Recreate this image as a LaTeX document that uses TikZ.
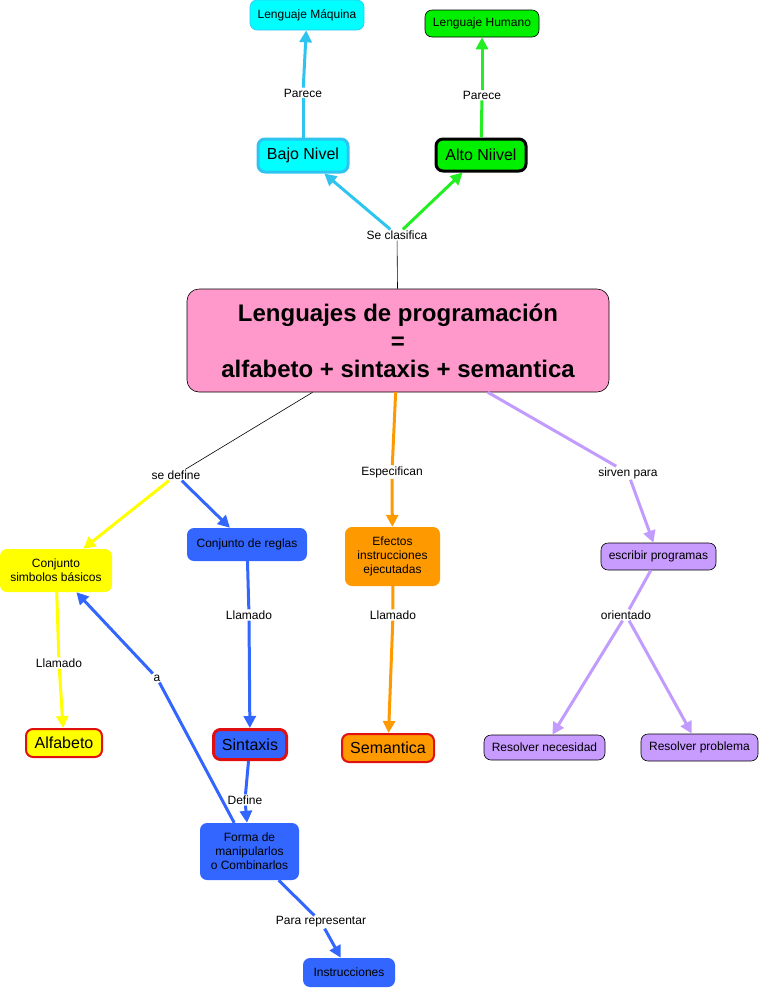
\documentclass[tikz,border=0pt]{standalone}
\usepackage{fontspec}
\setmainfont{Liberation Sans}
\usetikzlibrary{arrows.meta}
\definecolor{cyanfill}{HTML}{00FFFF}
\definecolor{cyanline}{HTML}{2EC4F0}
\definecolor{greenfill}{HTML}{00F000}
\definecolor{greenline}{HTML}{22EE22}
\definecolor{bluec}{HTML}{3366FF}
\definecolor{yellowc}{HTML}{FFFF00}
\definecolor{orangec}{HTML}{FF9900}
\definecolor{purplefill}{HTML}{C89BFF}
\definecolor{purpleline}{HTML}{C29BFF}
\definecolor{pinkc}{HTML}{FF99CC}
\definecolor{redc}{HTML}{E01010}

\begin{document}
\begin{tikzpicture}[x=1pt,y=-1pt,
box/.style={rounded corners=7pt,align=center,inner sep=1pt,font=\fontsize{12}{14}\selectfont},
big/.style={box,font=\fontsize{16}{19}\selectfont},
lbl/.style={fill=white,inner sep=1pt,font=\fontsize{12}{14}\selectfont},
link/.style={line width=3pt,-{Triangle[length=12pt,width=12pt]}},
thin/.style={line width=0.6pt}]
\useasboundingbox (0,0) rectangle (761,989);

\node[box,fill=cyanfill,draw=cyanline,thin,minimum width=114,minimum height=30] (maquina) at (307,15) {Lenguaje Máquina};
\node[box,fill=greenfill,draw=black,thin,minimum width=114,minimum height=27] (humano) at (482,23.5) {Lenguaje Humano};
\node[big,fill=cyanfill,draw=cyanline,line width=3pt,minimum width=90,minimum height=33] (bajo) at (303,155.5) {Bajo Nivel};
\node[big,fill=greenfill,draw=black,line width=3pt,minimum width=90,minimum height=32] (alto) at (481,155) {Alto Niivel};
\node[box,fill=pinkc,draw=black,thin,minimum width=422,minimum height=103,rounded corners=12pt,
  font=\fontsize{24}{28}\selectfont\bfseries] (main) at (398,340.5) {Lenguajes de programación\\=\\alfabeto + sintaxis + semantica};

\node[box,fill=yellowc,minimum width=112,minimum height=43] (simbolos) at (56,570.5) {Conjunto\\simbolos básicos};
\node[box,fill=bluec,minimum width=120,minimum height=33] (reglas) at (247,544.5) {Conjunto de reglas};
\node[big,fill=yellowc,draw=redc,line width=2pt,minimum width=76,minimum height=28] (alfabeto) at (64,743) {Alfabeto};
\node[big,fill=bluec,draw=redc,line width=3pt,minimum width=73,minimum height=30] (sintaxis) at (250,744.5) {Sintaxis};
\node[big,fill=orangec,draw=redc,line width=2pt,minimum width=92,minimum height=28] (semantica) at (388,748) {Semantica};
\node[box,fill=orangec,minimum width=95,minimum height=59] (efectos) at (392.5,556.5) {Efectos\\instrucciones\\ejecutadas};
\node[box,fill=bluec,minimum width=99,minimum height=57] (forma) at (249.5,851.5) {Forma de\\manipularlos\\o Combinarlos};
\node[box,fill=bluec,minimum width=92,minimum height=29] (instr) at (349,972.5) {Instrucciones};
\node[box,fill=purplefill,draw=black,thin,minimum width=115,minimum height=27] (escribir) at (658.5,556.5) {escribir programas};
\node[box,fill=purplefill,draw=black,thin,minimum width=121,minimum height=25] (necesidad) at (544.5,747.5) {Resolver necesidad};
\node[box,fill=purplefill,draw=black,thin,minimum width=117,minimum height=27] (problema) at (699.5,747.5) {Resolver problema};

\node[lbl] (parece1) at (303,93) {Parece};
\node[lbl] (parece2) at (482,95) {Parece};
\node[lbl] (clasifica) at (397,235) {Se clasifica};
\node[lbl] (define) at (176,475) {se define};
\node[lbl] (especifican) at (392,472) {Especifican};
\node[lbl] (sirven) at (628,473) {sirven para};
\node[lbl] (llamado1) at (59,663) {Llamado};
\node[lbl] (llamado2) at (249,615) {Llamado};
\node[lbl] (llamado3) at (393,615) {Llamado};
\node[lbl] (orientado) at (626,615) {orientado};
\node[lbl] (a) at (157,678) {a};
\node[lbl] (definec) at (245,800) {Define};
\node[lbl] (para) at (321,922) {Para representar};

\draw[thin] (main) -- (clasifica);
\draw[link,cyanline] (clasifica) -- (bajo);
\draw[link,greenline] (clasifica) -- (alto);
\draw[line width=3pt,cyanline] (bajo) -- (parece1);
\draw[link,cyanline] (parece1) -- (maquina);
\draw[line width=3pt,greenline] (alto) -- (parece2);
\draw[link,greenline] (parece2) -- (humano);

\draw[thin] (main) -- (define);
\draw[link,yellowc] (define) -- (simbolos);
\draw[link,bluec] (define) -- (reglas);
\draw[line width=3pt,yellowc] (simbolos) -- (llamado1);
\draw[link,yellowc] (llamado1) -- (alfabeto);
\draw[line width=3pt,bluec] (reglas) -- (llamado2);
\draw[link,bluec] (llamado2) -- (sintaxis);
\draw[line width=3pt,bluec] (sintaxis) -- (definec);
\draw[link,bluec] (definec) -- (forma);
\draw[line width=3pt,bluec] (forma) -- (a);
\draw[link,bluec] (a) -- (simbolos);
\draw[line width=3pt,bluec] (forma) -- (para);
\draw[link,bluec] (para) -- (instr);

\draw[line width=3pt,orangec] (main) -- (especifican);
\draw[link,orangec] (especifican) -- (efectos);
\draw[line width=3pt,orangec] (efectos) -- (llamado3);
\draw[link,orangec] (llamado3) -- (semantica);

\draw[line width=3pt,purpleline] (main) -- (sirven);
\draw[link,purpleline] (sirven) -- (escribir);
\draw[line width=3pt,purpleline] (escribir) -- (orientado);
\draw[link,purpleline] (orientado) -- (necesidad);
\draw[link,purpleline] (orientado) -- (problema);
\end{tikzpicture}
\end{document}
